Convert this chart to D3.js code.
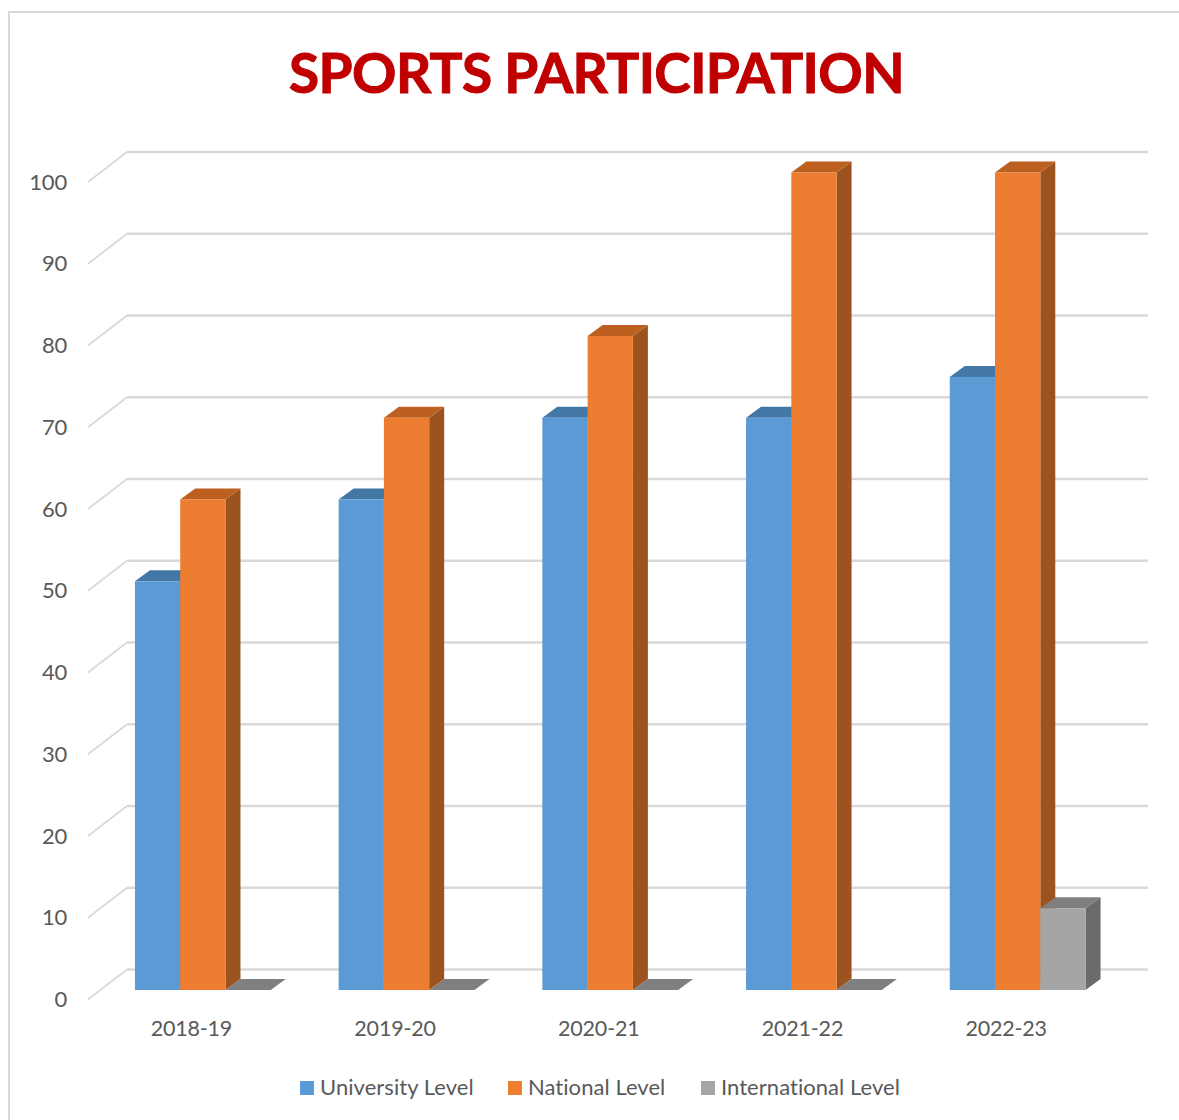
<!DOCTYPE html>
<html>
<head>
<meta charset="utf-8">
<script src="https://cdn.jsdelivr.net/npm/d3@7"></script>
<style>
  html, body { margin: 0; padding: 0; background: #fff; overflow: hidden; }
  text { font-family: Lato, sans-serif; }
</style>
</head>
<body>
<div id="chart"></div>
<script>
// chart data
const years = ["2018-19", "2019-20", "2020-21", "2021-22", "2022-23"];
const university = [50, 60, 70, 70, 75];
const national = [60, 70, 80, 100, 100];
const international = [0, 0, 0, 0, 10];
const yTicks = [0, 10, 20, 30, 40, 50, 60, 70, 80, 90, 100];
const seriesNames = ["University Level", "National Level", "International Level"];
const seriesValues = [university, national, international];

const front = ["#5b9bd5", "#ed7d31", "#a5a5a5"];
const top_ = ["#4377a6", "#bd5f1f", "#7f7f7f"];
const side = ["#3f6f9c", "#9c531e", "#6b6b6b"];

const width = 1179, height = 1120;

const svg = d3.select("#chart").append("svg")
  .attr("width", width)
  .attr("height", height)
  .style("display", "block");

// outer chart border, runs off the right and bottom of the picture
svg.append("rect")
  .attr("x", 9).attr("y", 12)
  .attr("width", 1200).attr("height", 1200)
  .attr("fill", "#fff")
  .attr("stroke", "#d9d9d9")
  .attr("stroke-width", 2);

svg.append("text")
  .attr("x", 596.5).attr("y", 93)
  .attr("text-anchor", "middle")
  .attr("font-size", 55)
  .attr("font-weight", 700)
  .attr("letter-spacing", -0.6)
  .attr("fill", "#c00000")
  .attr("stroke", "#c00000")
  .attr("stroke-width", 1)
  .text("SPORTS PARTICIPATION");

// y scale is the front edge of the side wall
const y = d3.scaleLinear().domain([0, 100]).range([999.5, 182]);
const wallX = 88, wallDX = 39, wallDY = -30, gridEnd = 1148;
const depthX = 15, depthY = -11;
const barLift = -9.5;

// gridlines: flat along the back, thinner on the slanted wall part
const grid = svg.append("g");
grid.selectAll("path.wall")
  .data(yTicks)
  .join("path")
  .attr("class", "wall")
  .attr("fill", "none")
  .attr("stroke", "#d9d9d9")
  .attr("stroke-width", 1.8)
  .attr("d", d => `M${wallX},${y(d)}L${wallX + wallDX},${y(d) + wallDY}`);
grid.selectAll("path.back")
  .data(yTicks)
  .join("path")
  .attr("class", "back")
  .attr("fill", "none")
  .attr("stroke", "#d9d9d9")
  .attr("stroke-width", 2.6)
  .attr("d", d => `M${wallX + wallDX},${y(d) + wallDY}L${gridEnd},${y(d) + wallDY}`);

// y axis labels
const yAxis = svg.append("g")
  .attr("transform", `translate(${wallX},0)`)
  .call(d3.axisLeft(y).tickValues(yTicks).tickSize(0).tickPadding(21));
yAxis.select(".domain").remove();
yAxis.selectAll("text")
  .attr("font-size", 22)
  .attr("letter-spacing", -0.2)
  .style("font-family", "Lato, sans-serif")
  .attr("fill", "#595959");

// bars
const x0 = d3.scaleBand().domain(years).range([101, 1119.5]).paddingInner(1 / 3).paddingOuter(1 / 6);
const x1 = d3.scaleBand().domain(d3.range(3)).range([0, x0.bandwidth()]);

const poly = pts => pts.map(p => p.join(",")).join(" ");

seriesValues.forEach((vals, s) => {
  const g = svg.append("g");
  vals.forEach((v, i) => {
    const xl = x0(years[i]) + x1(s);
    const xr = xl + x1.bandwidth();
    const yt = y(v) + barLift;
    const yb = y(0) + barLift;
    g.append("polygon")
      .attr("fill", side[s])
      .attr("points", poly([[xr, yt], [xr + depthX, yt + depthY], [xr + depthX, yb + depthY], [xr, yb]]));
    g.append("polygon")
      .attr("fill", top_[s])
      .attr("points", poly([[xl, yt], [xl + depthX, yt + depthY], [xr + depthX, yt + depthY], [xr, yt]]));
    g.append("rect")
      .attr("x", xl).attr("y", yt)
      .attr("width", x1.bandwidth())
      .attr("height", yb - yt)
      .attr("fill", front[s]);
  });
});

// category labels
const xLabels = d3.scaleBand().domain(years).range([89.5, 1108]);
const xAxis = svg.append("g")
  .attr("transform", "translate(0,1017.5)")
  .call(d3.axisBottom(xLabels).tickSize(0).tickPadding(3));
xAxis.select(".domain").remove();
xAxis.selectAll("text")
  .attr("font-size", 21.5)
  .attr("letter-spacing", -0.2)
  .style("font-family", "Lato, sans-serif")
  .attr("fill", "#595959");

// legend
const legendX = [300, 508, 701];
const legend = svg.append("g").selectAll("g")
  .data(seriesNames)
  .join("g")
  .attr("transform", (d, i) => `translate(${legendX[i]},1081)`);
legend.append("rect")
  .attr("width", 14).attr("height", 14)
  .attr("fill", (d, i) => front[i]);
legend.append("text")
  .attr("x", 20).attr("y", 14)
  .attr("font-size", 22)
  .attr("letter-spacing", 0.05)
  .attr("fill", "#595959")
  .text(d => d);
</script>
</body>
</html>
